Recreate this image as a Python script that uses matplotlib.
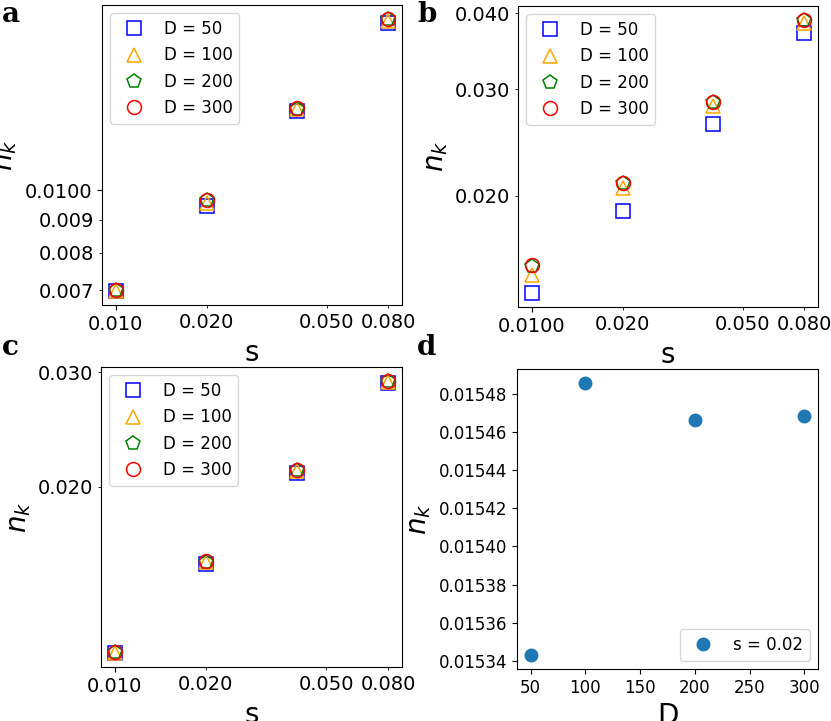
import matplotlib
matplotlib.use("Agg")
import matplotlib.pyplot as plt
from matplotlib.ticker import FixedLocator, FixedFormatter, NullLocator

# ---------------- data ----------------
s_vals = [0.01, 0.02, 0.04, 0.08]
D_labels = ["D = 50", "D = 100", "D = 200", "D = 300"]

# panel a
a_D50 = [0.00697, 0.00946, 0.01330, 0.01820]
a_D100 = [0.00699, 0.00956, 0.01338, 0.01831]
a_D200 = [0.00701, 0.00965, 0.01340, 0.01846]
a_D300 = [0.00701, 0.00966, 0.01341, 0.01848]

# panel b
b_D50 = [0.01382, 0.01892, 0.02633, 0.03717]
b_D100 = [0.01480, 0.02059, 0.02818, 0.03862]
b_D200 = [0.01535, 0.02099, 0.02860, 0.03900]
b_D300 = [0.01537, 0.02101, 0.02862, 0.03905]

# panel c
c_D50 = [0.01108, 0.01523, 0.02099, 0.02885]
c_D100 = [0.01110, 0.01530, 0.02112, 0.02898]
c_D200 = [0.01112, 0.01534, 0.02122, 0.02910]
c_D300 = [0.01113, 0.01535, 0.02124, 0.02912]

# panel d (s = 0.02)
d_D = [50, 100, 200, 300]
d_nk = [0.0153428, 0.0154860, 0.0154665, 0.0154685]

# tick labels
a_xmajor, a_xmajor_lab = [0.01], ["0.010"]
a_xminor, a_xminor_lab = [0.02, 0.05, 0.08], ["0.020", "0.050", "0.080"]
a_ymajor, a_ymajor_lab = [0.01], ["0.0100"]
a_yminor, a_yminor_lab = [0.007, 0.008, 0.009], ["0.007", "0.008", "0.009"]

b_xmajor, b_xmajor_lab = [0.01], ["0.0100"]
b_xminor, b_xminor_lab = [0.02, 0.05, 0.08], ["0.020", "0.050", "0.080"]
b_yminor, b_yminor_lab = [0.02, 0.03, 0.04], ["0.020", "0.030", "0.040"]

c_xmajor, c_xmajor_lab = [0.01], ["0.010"]
c_xminor, c_xminor_lab = [0.02, 0.05, 0.08], ["0.020", "0.050", "0.080"]
c_yminor, c_yminor_lab = [0.02, 0.03], ["0.020", "0.030"]

d_xticks = [50, 100, 150, 200, 250, 300]
d_yticks = [0.01534, 0.01536, 0.01538, 0.01540, 0.01542, 0.01544, 0.01546, 0.01548]

# ---------------- figure ----------------
W, H = 831, 721
fig = plt.figure(figsize=(W / 100, H / 100), dpi=100)


def px_axes(left, top, right, bottom):
    return fig.add_axes([left / W, 1 - bottom / H, (right - left) / W, (bottom - top) / H])


styles = [
    dict(marker="s", color="blue"),
    dict(marker="^", color="orange"),
    dict(marker="p", color="green"),
    dict(marker="o", color="red"),
]


def loglog_panel(ax, series, xmaj, xmaj_lab, xmin, xmin_lab, ymaj, ymaj_lab, ymin, ymin_lab):
    for vals, st, lab in zip(series, styles, D_labels):
        ax.plot(s_vals, vals, linestyle="none", marker=st["marker"], markersize=10,
                markerfacecolor="none", markeredgecolor=st["color"], markeredgewidth=1.1,
                label=lab)
    ax.set_xscale("log")
    ax.set_yscale("log")
    ax.xaxis.set_major_locator(FixedLocator(xmaj))
    ax.xaxis.set_major_formatter(FixedFormatter(xmaj_lab))
    ax.xaxis.set_minor_locator(FixedLocator(xmin))
    ax.xaxis.set_minor_formatter(FixedFormatter(xmin_lab))
    if ymaj:
        ax.yaxis.set_major_locator(FixedLocator(ymaj))
        ax.yaxis.set_major_formatter(FixedFormatter(ymaj_lab))
    else:
        ax.yaxis.set_major_locator(NullLocator())
    ax.yaxis.set_minor_locator(FixedLocator(ymin))
    ax.yaxis.set_minor_formatter(FixedFormatter(ymin_lab))
    ax.tick_params(which="both", labelsize=14)
    ax.set_xlabel("s", fontsize=20)
    ax.set_ylabel("$n_k$", fontsize=20)
    ax.legend(loc="upper left", fontsize=12)


ax_a = px_axes(102, 5, 402, 305)
loglog_panel(ax_a, [a_D50, a_D100, a_D200, a_D300], a_xmajor, a_xmajor_lab, a_xminor, a_xminor_lab,
             a_ymajor, a_ymajor_lab, a_yminor, a_yminor_lab)

ax_b = px_axes(518, 6, 818, 307)
loglog_panel(ax_b, [b_D50, b_D100, b_D200, b_D300], b_xmajor, b_xmajor_lab, b_xminor, b_xminor_lab,
             [], [], b_yminor, b_yminor_lab)

ax_c = px_axes(101, 367, 402, 667)
loglog_panel(ax_c, [c_D50, c_D100, c_D200, c_D300], c_xmajor, c_xmajor_lab, c_xminor, c_xminor_lab,
             [], [], c_yminor, c_yminor_lab)

ax_d = px_axes(517, 369, 818, 669)
ax_d.plot(d_D, d_nk, linestyle="none", marker="o", markersize=9, color="#1f77b4", label="s = 0.02")
ax_d.set_xticks(d_xticks)
ax_d.set_yticks(d_yticks)
ax_d.set_yticklabels([f"{v:.5f}" for v in d_yticks])
ax_d.tick_params(labelsize=12)
ax_d.set_xlabel("D", fontsize=20)
ax_d.set_ylabel("$n_k$", fontsize=20)
ax_d.legend(loc="lower right", fontsize=12)

# panel letters
for letter, x, y in [("a", 2, 22), ("b", 417, 22), ("c", 2, 355), ("d", 417, 355)]:
    fig.text(x / W, 1 - y / H, letter, fontsize=20, fontweight="bold", family="DejaVu Serif",
             ha="left", va="baseline")

fig.savefig("out.png", dpi=100)
